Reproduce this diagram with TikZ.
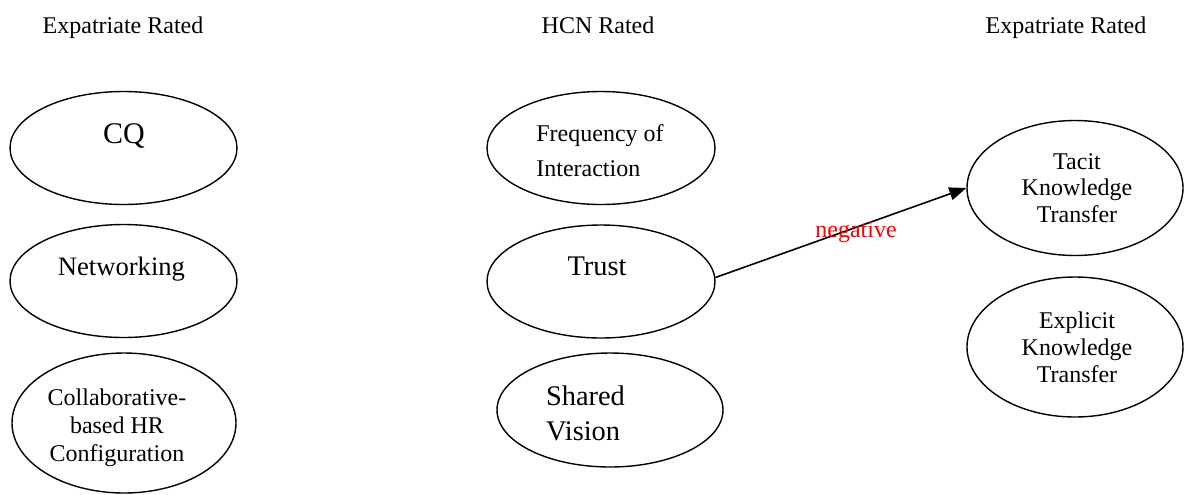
\documentclass[tikz,border=0pt]{standalone}
\usepackage{fontspec}
\setmainfont{Liberation Serif}
\usetikzlibrary{shapes.geometric,arrows.meta}
\begin{document}
\begin{tikzpicture}[x=0.5pt,y=-0.5pt,
                    oval/.style={draw,ellipse,line width=0.7pt,inner sep=0pt},
                    small/.style={oval,minimum width=113.5pt,minimum height=56.5pt},
                    tall/.style={oval,minimum width=108pt,minimum height=69pt},
                    hdr/.style={anchor=base,font=\fontsize{12}{14}\selectfont},
                    txt/.style={inner sep=0pt,font=\fontsize{12}{14}\selectfont}]
                    \useasboundingbox (0,0) rectangle (1184,494);
                    
                    \node[hdr] (h1) at (123,33) {Expatriate Rated};
                    \node[hdr] (h2) at (598,33) {HCN Rated};
                    \node[hdr] (h3) at (1066,33) {Expatriate Rated};
                    
                    \node[small] (cq) at (123.5,148) {};
                    \node[anchor=base,font=\fontsize{15}{18}\selectfont] (cqt) at (124,143) {CQ};
                    \node[small] (netw) at (123.5,281) {};
                    \node[anchor=base,font=\fontsize{13.3}{16}\selectfont] (netwt) at (121.5,275) {Networking};
                    \node[oval,minimum width=112pt,minimum height=70pt] (hrc) at (124,423) {};
                    \node[txt,align=center,font=\fontsize{12}{14}\selectfont] (hrct) at (117,428) {Collaborative-\\based HR\\Configuration};
                    
                    \node[small,minimum width=114pt] (freq) at (601,148) {};
                    \node[txt,align=left,font=\fontsize{12}{17.5}\selectfont] (freqt) at (600,151) {Frequency of\\Interaction};
                    \node[small,minimum width=114pt] (trust) at (601,281.5) {};
                    \node[anchor=base,font=\fontsize{14.2}{17}\selectfont] (trustt) at (597,275) {Trust};
                    \node[small,minimum width=113pt,minimum height=57pt] (vis) at (610,410) {};
                    \node[txt,align=left,font=\fontsize{14.2}{17.5}\selectfont] (vist) at (585.5,413) {Shared\\Vision};
                    
                    \node[tall,minimum height=67.5pt] (tacit) at (1075,188) {};
                    \node[txt,align=center,font=\fontsize{12}{13.4}\selectfont] (tacitt) at (1077,188) {Tacit\\Knowledge\\Transfer};
                    \node[tall,minimum height=70pt] (expl) at (1075,347) {};
                    \node[txt,align=center,font=\fontsize{12}{13.4}\selectfont] (explt) at (1077,347) {Explicit\\Knowledge\\Transfer};
                    
                    \draw[line width=0.8pt,-{Triangle[length=8.5pt,width=6.5pt]}] (trust.2) -- (tacit.west);
                    \node[anchor=base,text=red,font=\fontsize{12}{14}\selectfont] (neg) at (856,237) {negative};
                \end{tikzpicture}
\end{document}
